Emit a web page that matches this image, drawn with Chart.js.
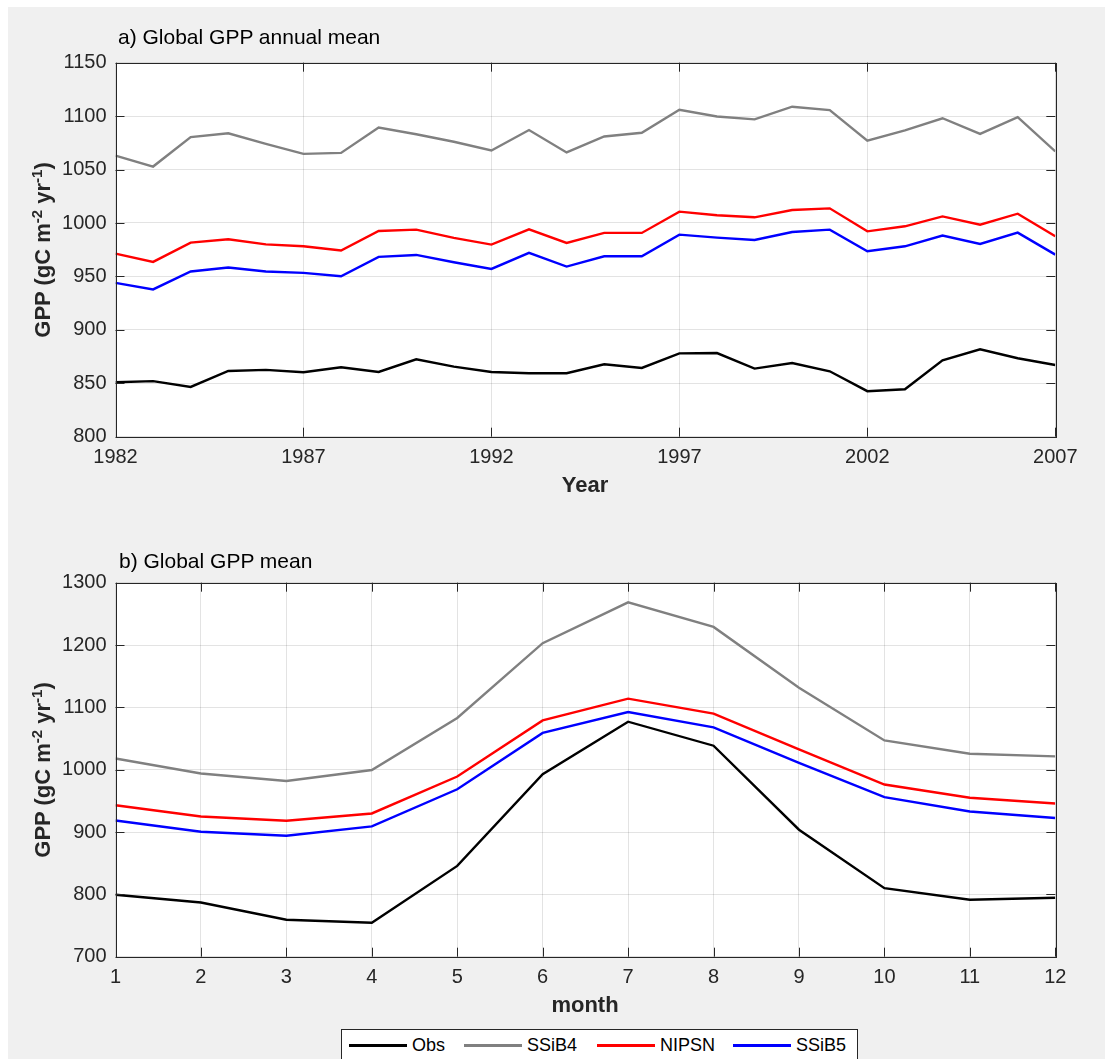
<!DOCTYPE html>
<html>
<head>
<meta charset="utf-8">
<script src="https://cdn.jsdelivr.net/npm/chart.js@4.4.1/dist/chart.umd.min.js"></script>
<style>
  html, body { margin: 0; padding: 0; background: #fff; }
  body { width: 1105px; height: 1059px; position: relative; overflow: hidden;
         font-family: "Liberation Sans", Arial, Helvetica, sans-serif; }
  #panel { position: absolute; left: 8px; top: 7px; width: 1097px; height: 1052px; background: #f0f0f0; }
  canvas { position: absolute; left: 0; }
  .txt { position: absolute; white-space: nowrap; line-height: 1; }
  .ttl { font-size: 21px; color: #000; }
  .xlab { font-size: 22px; font-weight: bold; color: #262626; transform: translateX(-50%); }
  .ylab { font-size: 22px; font-weight: bold; color: #262626; transform: translate(-50%, -50%) rotate(-90deg); }
  .ylab sup { font-size: 15px; vertical-align: 8px; line-height: 0; }
  #legend { position: absolute; left: 341px; top: 1029px; width: 515px; height: 40px;
            background: #fff; border: 1px solid #262626; }
  .lg-line { position: absolute; height: 3px; top: 1044px; }
  .lg-txt { position: absolute; font-size: 18px; color: #000; top: 1036px; line-height: 1; }
</style>
</head>
<body>
<div id="panel"></div>
<canvas id="annualChart" width="1105" height="500" style="top:0"></canvas>
<canvas id="monthlyChart" width="1105" height="500" style="top:520px"></canvas>

<div class="txt ttl" style="left:118px; top:26px">a) Global GPP annual mean</div>
<div class="txt xlab" style="left:585px; top:474px">Year</div>
<div class="txt ylab" style="left:43px; top:250px">GPP (gC m<sup>-2</sup> yr<sup>-1</sup>)</div>

<div class="txt ttl" style="left:119px; top:550px">b) Global GPP mean</div>
<div class="txt xlab" style="left:585px; top:994px">month</div>
<div class="txt ylab" style="left:43px; top:770px">GPP (gC m<sup>-2</sup> yr<sup>-1</sup>)</div>

<div id="legend"></div>
<div class="lg-line" style="left:349px; width:58px; background:#000"></div>
<div class="lg-txt" style="left:412px">Obs</div>
<div class="lg-line" style="left:464px; width:58px; background:#808080"></div>
<div class="lg-txt" style="left:527px">SSiB4</div>
<div class="lg-line" style="left:597px; width:58px; background:#ff0000"></div>
<div class="lg-txt" style="left:660px">NIPSN</div>
<div class="lg-line" style="left:733px; width:58px; background:#0000ff"></div>
<div class="lg-txt" style="left:796px">SSiB5</div>

<script>
// ---- data ----
const years = [1982, 1983, 1984, 1985, 1986, 1987, 1988, 1989, 1990, 1991, 1992, 1993, 1994,
               1995, 1996, 1997, 1998, 1999, 2000, 2001, 2002, 2003, 2004, 2005, 2006, 2007];
const obsAnnual   = [851, 852, 846.6, 861.5, 862.5, 860.3, 865, 860.6, 872.4, 865.6, 860.6, 859.4, 859.4,
                     867.8, 864.3, 878, 878.3, 863.7, 869, 861.2, 842.6, 844.4, 871.5, 881.8, 873.4, 867.1];
const ssib4Annual = [1063, 1052.8, 1080.3, 1084, 1074, 1064.7, 1065.6, 1089.4, 1083, 1076, 1067.8, 1087, 1066,
                     1081, 1084.4, 1106, 1099.7, 1097, 1108.8, 1105.6, 1077, 1086.6, 1098, 1083.4, 1099, 1067];
const nipsnAnnual = [971.4, 963.6, 981.6, 984.8, 980, 978.2, 974.2, 992.5, 993.8, 986, 979.8, 994, 981.3,
                     990.7, 990.7, 1010.6, 1007.2, 1005.3, 1012.1, 1013.7, 992.2, 996.9, 1006.2, 998.4, 1008.7, 987.6];
const ssib5Annual = [944, 937.8, 954.6, 958.3, 954.6, 953.3, 950.2, 968.3, 970.1, 963.3, 957, 972, 959.2,
                     968.9, 968.9, 989.1, 986.3, 984.1, 991.6, 993.8, 973.6, 978.2, 988.2, 980.4, 991, 970.4];

const months = [1, 2, 3, 4, 5, 6, 7, 8, 9, 10, 11, 12];
const obsMonthly   = [799.3, 787, 759.3, 754.6, 845.7, 992.7, 1077, 1038.5, 903.7, 810, 791.3, 794.5];
const ssib4Monthly = [1018, 994, 982, 999.5, 1083, 1203, 1268.4, 1229, 1131.5, 1047, 1025.7, 1021.4];
const nipsnMonthly = [943, 925, 918, 929.8, 989, 1079, 1114, 1090, 1032.5, 976.2, 955, 945.8];
const ssib5Monthly = [918.6, 900.5, 894, 909, 968.6, 1059, 1092.5, 1067.9, 1011, 956, 933, 922.4];

const seriesNames  = ["Obs", "SSiB4", "NIPSN", "SSiB5"];
const seriesColors = ["#000000", "#808080", "#ff0000", "#0000ff"];

Chart.defaults.font.family = '"Liberation Sans", Arial, Helvetica, sans-serif';
Chart.defaults.color = "#262626";

// white plot area, box around it and inward ticks like matlab
const boxPlugin = {
    id: "matlabBox",
    beforeDraw(chart) {
        const { ctx, chartArea: a } = chart;
        ctx.save();
        ctx.fillStyle = "#ffffff";
        ctx.fillRect(a.left, a.top, a.right - a.left, a.bottom - a.top);
        ctx.restore();
    },
    afterDraw(chart) {
        const { ctx, chartArea: a, scales } = chart;
        const tl = 9;
        ctx.save();
        ctx.strokeStyle = "#262626";
        ctx.lineWidth = 1;
        ctx.beginPath();
        scales.x.ticks.forEach(t => {
            const px = Math.round(scales.x.getPixelForValue(t.value)) + 0.5;
            ctx.moveTo(px, a.bottom); ctx.lineTo(px, a.bottom - tl);
            ctx.moveTo(px, a.top); ctx.lineTo(px, a.top + tl);
        });
        scales.y.ticks.forEach(t => {
            const py = Math.round(scales.y.getPixelForValue(t.value)) + 0.5;
            ctx.moveTo(a.left, py); ctx.lineTo(a.left + tl, py);
            ctx.moveTo(a.right, py); ctx.lineTo(a.right - tl, py);
        });
        ctx.stroke();
        ctx.strokeRect(Math.round(a.left) + 0.5, Math.round(a.top) + 0.5,
                       Math.round(a.right - a.left), Math.round(a.bottom - a.top));
        ctx.restore();
    }
};

function makeDatasets(xs, lists) {
    return lists.map((vals, i) => ({
        label: seriesNames[i],
        data: xs.map((x, j) => ({ x: x, y: vals[j] })),
        borderColor: seriesColors[i],
        backgroundColor: seriesColors[i],
        borderWidth: 2.4,
        pointRadius: 0,
        tension: 0,
        order: lists.length - i
    }));
}

function drawPanel(canvasId, xs, lists, xMin, xMax, xStep, yMin, yMax, yStep) {
    const ctx = document.getElementById(canvasId).getContext("2d");
    return new Chart(ctx, {
        type: "line",
        data: { datasets: makeDatasets(xs, lists) },
        options: {
            responsive: false,
            animation: false,
            devicePixelRatio: 1,
            layout: { padding: { left: 0, top: 62.7, right: 49.7, bottom: 0 } },
            plugins: { legend: { display: false }, tooltip: { enabled: false } },
            scales: {
                x: {
                    type: "linear",
                    min: xMin, max: xMax,
                    ticks: { stepSize: xStep, padding: 9, font: { size: 20 }, color: "#262626",
                             callback: v => String(v) },
                    grid: { color: "rgba(0,0,0,0.11)", drawTicks: false },
                    border: { display: false },
                    afterFit: s => { s.height = 63.3; }
                },
                y: {
                    type: "linear",
                    min: yMin, max: yMax,
                    ticks: { stepSize: yStep, padding: 9, font: { size: 20 }, color: "#262626",
                             callback: v => String(v) },
                    grid: { color: "rgba(0,0,0,0.11)", drawTicks: false },
                    border: { display: false },
                    afterFit: s => { s.width = 115.5; }
                }
            }
        },
        plugins: [boxPlugin]
    });
}

drawPanel("annualChart", years, [obsAnnual, ssib4Annual, nipsnAnnual, ssib5Annual],
          1982, 2007, 5, 800, 1150, 50);
drawPanel("monthlyChart", months, [obsMonthly, ssib4Monthly, nipsnMonthly, ssib5Monthly],
          1, 12, 1, 700, 1300, 100);
</script>
</body>
</html>
